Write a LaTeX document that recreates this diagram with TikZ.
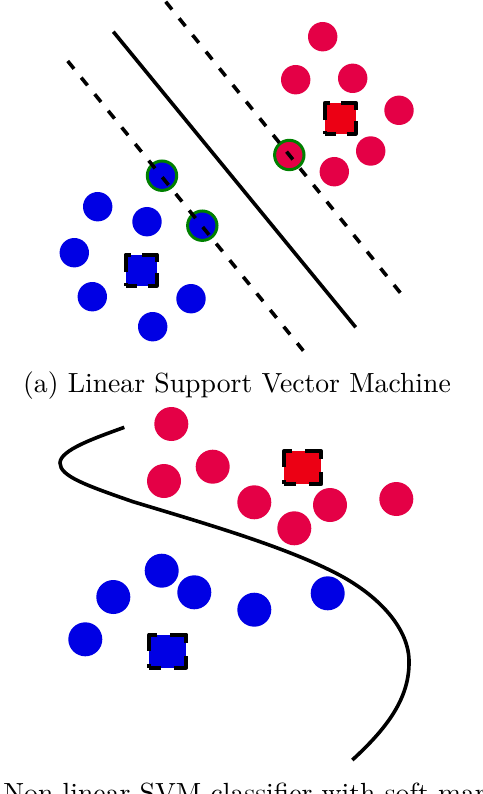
\documentclass[tikz,border=0pt]{standalone}
\definecolor{ptred}{RGB}{228,0,70}
\definecolor{sqred}{RGB}{236,0,20}
\definecolor{ptblue}{RGB}{0,0,228}
\definecolor{svgreen}{RGB}{0,128,0}
\tikzset{
  redpt/.style={circle, inner sep=0pt, minimum size=#1, fill=ptred, draw=none},
  bluept/.style={circle, inner sep=0pt, minimum size=#1, fill=ptblue, draw=none},
  redpt/.default=29.4pt,
  bluept/.default=29.4pt,
  svring/.style={draw=svgreen, line width=3pt},
  centroid/.style={rectangle, inner sep=0pt, line width=4pt, draw=black, line join=round,
     dash pattern=on 22pt off 11pt, dash phase=11pt},
  hyper/.style={line width=3.6pt, black},
  marginline/.style={line width=3.6pt, black, dash pattern=on 10pt off 11.4pt},
  boundary/.style={line width=3.6pt, black},
  caption/.style={scale=2.77, anchor=base, inner sep=0pt}
}
\begin{document}
\begin{tikzpicture}[x=1pt, y=-1pt]
\useasboundingbox (0,0) rectangle (482,794);
\clip (0,0) rectangle (482,794);
\fill[white] (0,0) rectangle (482,794);

% ---------- (a) linear SVM ----------
\node[redpt] (ra1) at (322.7,36.7) {};
\node[redpt] (ra2) at (295.7,79.7) {};
\node[redpt] (ra3) at (352.7,78.3) {};
\node[redpt] (ra4) at (399,110.3) {};
\node[redpt] (ra5) at (370.7,151) {};
\node[redpt] (ra6) at (334.3,171.7) {};
\node[redpt, svring] (rs1) at (289.3,155) {};
\node[centroid, fill=sqred, minimum width=31pt, minimum height=31pt] (rq) at (340.3,118.3) {};

\node[bluept] (ba1) at (97.7,206.7) {};
\node[bluept] (ba2) at (147,221.7) {};
\node[bluept] (ba3) at (74.3,252.7) {};
\node[bluept] (ba4) at (92.3,296.7) {};
\node[bluept] (ba5) at (191,298.7) {};
\node[bluept] (ba6) at (152.7,326.7) {};
\node[bluept, svring] (bs1) at (162,175.7) {};
\node[bluept, svring] (bs2) at (202.3,225.7) {};
\node[centroid, fill=ptblue, minimum width=31pt, minimum height=31pt] (bq) at (141.3,270) {};

\coordinate (h1) at (113.3,31.7);
\coordinate (h2) at (355.7,327.3);
\coordinate (m1a) at (67.7,61);
\coordinate (m1b) at (303.3,350.7);
\coordinate (m2a) at (165.7,1.7);
\coordinate (m2b) at (400.7,293.3);
\draw[hyper] (h1) -- (h2);
\draw[marginline] (m1a) -- (m1b);
\draw[marginline] (m2a) -- (m2b);

\node[caption] (capa) at (237,392) {(a) Linear Support Vector Machine};

% ---------- (b) non-linear SVM ----------
\node[redpt=34pt] (rb1) at (171.3,424) {};
\node[redpt=34pt] (rb2) at (212.7,466.7) {};
\node[redpt=34pt] (rb3) at (164,481) {};
\node[redpt=34pt] (rb4) at (254.3,502.3) {};
\node[redpt=34pt] (rb5) at (330,505) {};
\node[redpt=34pt] (rb6) at (294.3,528.3) {};
\node[redpt=34pt] (rb7) at (396.3,499) {};
\node[centroid, fill=sqred, minimum width=37pt, minimum height=33pt,
      dash pattern=on 24pt off 13pt, dash phase=12pt] (rqb) at (302.5,467.7) {};

\node[bluept=34pt] (bb1) at (161.7,570.7) {};
\node[bluept=34pt] (bb2) at (113.3,597) {};
\node[bluept=34pt] (bb3) at (194.3,592.3) {};
\node[bluept=34pt] (bb4) at (254.3,609.7) {};
\node[bluept=34pt] (bb5) at (327.7,593.3) {};
\node[bluept=34pt] (bb6) at (85.3,639.3) {};
\node[centroid, fill=ptblue, minimum width=37pt, minimum height=33pt,
      dash pattern=on 24pt off 13pt, dash phase=12pt] (bqb) at (167.8,651) {};

\draw[boundary] (124.3,427.3) .. controls (95,438) and (60,450) .. (60,463)
  .. controls (60,476) and (85,485) .. (133,501.7)
  .. controls (200,522) and (280,545) .. (333,571.7)
  .. controls (380,595) and (410,630) .. (409,663)
  .. controls (409,700) and (385,730) .. (352.3,760);

\node[caption] (capb) at (240,802) {(b) Non linear SVM classifier with soft margin};
\end{tikzpicture}
\end{document}
